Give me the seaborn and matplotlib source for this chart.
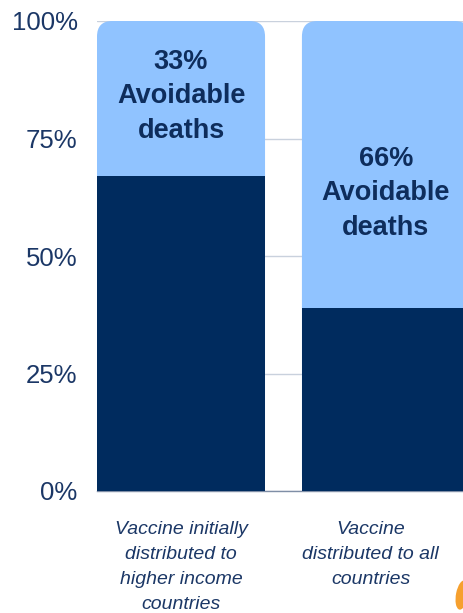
import pandas as pd
import matplotlib.pyplot as plt
import seaborn as sns
from matplotlib.patches import FancyBboxPatch, Ellipse

# data
scenarios = ["Vaccine initially\ndistributed to\nhigher income\ncountries",
             "Vaccine\ndistributed to all\ncountries"]
unavoidable = [67, 39]
total = [100, 100]
bar_labels = ["33%\nAvoidable\ndeaths", "66%\nAvoidable\ndeaths"]
label_y = [84.0, 63.3]

dark = "#002B5E"
light = "#90C3FF"
text_col = "#1B3766"
bar_text_col = "#0E2D5C"

df = pd.DataFrame({"scenario": scenarios, "unavoidable": unavoidable, "total": total})

sns.set_style("white")
plt.rcParams["font.family"] = ["Liberation Sans", "DejaVu Sans"]

fig = plt.figure(figsize=(4.63, 6.13), dpi=100)
ax = fig.add_axes([97 / 463, 122 / 613, 366 / 463, 470 / 613])

# light background bars (full height), then dark part on top
sns.barplot(data=df, x="scenario", y="total", color=light, width=0.82,
            saturation=1, linewidth=0, ax=ax, zorder=2)
sns.barplot(data=df, x="scenario", y="unavoidable", color=dark, width=0.82,
            saturation=1, linewidth=0, ax=ax, zorder=3)

# round the top corners of the light bars
for p in list(ax.patches[:2]):
    x0, y0, w, h = p.get_x(), p.get_y(), p.get_width(), p.get_height()
    p.remove()
    r = FancyBboxPatch((x0, y0), w, h,
                       boxstyle="round,pad=0,rounding_size=0.075",
                       mutation_aspect=44, facecolor=light, edgecolor="none",
                       zorder=2)
    ax.add_patch(r)

for i, (txt, yy) in enumerate(zip(bar_labels, label_y)):
    ax.text(i, yy, txt, ha="center", va="center", fontsize=19.5,
            fontweight="bold", color=bar_text_col, linespacing=1.42, zorder=5)

# category labels under the bars
cat_x = [0, 0.925]
for x, txt in zip(cat_x, scenarios):
    ax.text(x, -6.3, txt, ha="center", va="top", fontsize=14, style="italic",
            color=text_col, linespacing=1.63, clip_on=False)

ax.set_xlim(-0.41, 1.376)
ax.set_ylim(0, 100)
ax.set_yticks([0, 25, 50, 75, 100])
ax.set_yticklabels(["0%", "25%", "50%", "75%", "100%"])
ax.tick_params(axis="y", labelsize=18.5, labelcolor=text_col, length=0, pad=14)
ax.set_xticks([])
ax.set_xlabel("")
ax.set_ylabel("")
ax.yaxis.grid(True, color="#C9D1DD", linewidth=1, zorder=0)
ax.set_axisbelow(True)
for s in ["top", "right", "left"]:
    ax.spines[s].set_visible(False)
ax.spines["bottom"].set_color("#7F8EA6")
ax.spines["bottom"].set_linewidth(1)

# small orange leaf in the corner
fig.patches.append(Ellipse((462 / 463, 18 / 613), 12 / 463, 30 / 613, angle=-15,
                           transform=fig.transFigure, facecolor="#F6A02E",
                           edgecolor="none"))

fig.savefig("out.png", dpi=100)
